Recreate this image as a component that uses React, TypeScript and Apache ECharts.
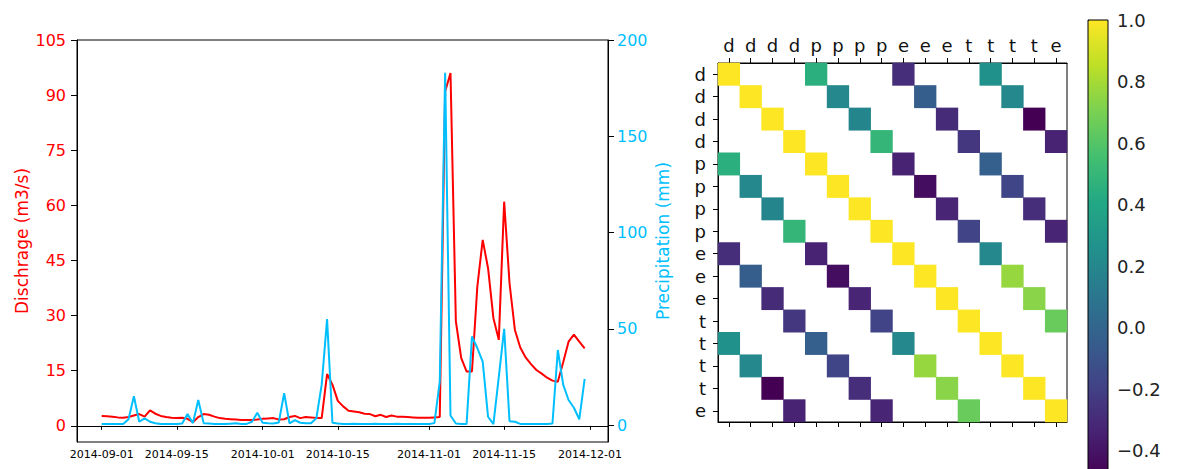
import React, { useEffect, useRef } from 'react';
import * as echarts from 'echarts';

// ---------- data ----------
const startDate = [2014, 8, 1]; // 2014-09-01 (month is 0-based)
const dayCount = 91;

const discharge = [
  2.7, 2.6, 2.5, 2.3, 2.2, 2.4, 2.8, 3.2, 2.5, 4.2,
  3.3, 2.7, 2.4, 2.2, 2.1, 2.2, 1.9, 1.0, 2.4, 3.2,
  3.0, 2.5, 2.1, 1.9, 1.8, 1.7, 1.6, 1.6, 1.6, 1.7,
  1.9, 2.0, 2.1, 1.7, 1.8, 2.4, 2.7, 2.1, 2.4, 2.3,
  2.1, 2.1, 14.1, 11.2, 6.8, 5.3, 4.1, 3.9, 3.7, 3.3,
  3.2, 2.6, 3.0, 2.4, 2.8, 2.5, 2.5, 2.4, 2.3, 2.2,
  2.2, 2.2, 2.3, 2.4, 91.0, 96.0, 28.4, 18.4, 14.8, 14.8,
  37.9, 50.6, 42.9, 29.3, 23.4, 61.0, 38.8, 26.1, 21.3, 18.6,
  16.8, 15.2, 14.2, 13.1, 12.3, 12.0, 17.3, 22.9, 24.8, 22.9,
  21.1,
];

const precipitation = [
  0.5, 0.6, 0.5, 0.5, 0.6, 3.0, 15.0, 1.7, 3.5, 1.7,
  0.9, 0.5, 0.5, 0.6, 0.5, 0.8, 5.7, 1.0, 13.0, 1.0,
  0.8, 0.6, 0.5, 0.5, 0.7, 0.9, 0.6, 0.6, 1.7, 6.4,
  1.2, 0.9, 0.8, 1.3, 16.5, 0.9, 2.6, 1.2, 0.9, 0.9,
  3.5, 21.0, 55.0, 1.2, 0.8, 0.6, 0.5, 0.7, 0.6, 0.5,
  0.6, 0.7, 0.6, 0.5, 0.6, 0.7, 0.5, 0.6, 0.5, 0.6,
  0.5, 0.6, 1.0, 22.5, 183.0, 5.0, 0.8, 0.5, 0.6, 46.0,
  40.0, 33.0, 4.3, 0.5, 25.0, 50.0, 2.0, 1.7, 0.6, 0.5,
  0.5, 0.5, 0.5, 0.5, 0.8, 39.0, 21.0, 13.0, 9.0, 3.0,
  24.0,
];

const dischargeTicks = [0, 15, 30, 45, 60, 75, 90, 105];
const precipTicks = [0, 50, 100, 150, 200];
const dateTicks = ['2014-09-01', '2014-09-15', '2014-10-01', '2014-10-15', '2014-11-01', '2014-11-15', '2014-12-01'];

const varLabels = ['d', 'd', 'd', 'd', 'p', 'p', 'p', 'p', 'e', 'e', 'e', 't', 't', 't', 't', 'e'];

const N = null;
const corrRows = [
  [1, N, N, N, 0.46, N, N, N, -0.27, N, N, N, 0.27, N, N, N],
  [N, 1, N, N, N, 0.22, N, N, N, -0.03, N, N, N, 0.22, N, N],
  [N, N, 1, N, N, N, 0.20, N, N, N, -0.28, N, N, N, -0.46, N],
  [N, N, N, 1, N, N, N, 0.50, N, N, N, -0.23, N, N, N, -0.32],
  [0.46, N, N, N, 1, N, N, N, -0.32, N, N, N, -0.02, N, N, N],
  [N, 0.22, N, N, N, 1, N, N, N, -0.41, N, N, N, -0.16, N, N],
  [N, N, 0.20, N, N, N, 1, N, N, N, -0.31, N, N, N, -0.27, N],
  [N, N, N, 0.50, N, N, N, 1, N, N, N, -0.17, N, N, N, -0.31],
  [-0.27, N, N, N, -0.32, N, N, N, 1, N, N, N, 0.22, N, N, N],
  [N, -0.03, N, N, N, -0.41, N, N, N, 1, N, N, N, 0.77, N, N],
  [N, N, -0.28, N, N, N, -0.31, N, N, N, 1, N, N, N, 0.74, N],
  [N, N, N, -0.23, N, N, N, -0.17, N, N, N, 1, N, N, N, 0.66],
  [0.27, N, N, N, -0.02, N, N, N, 0.22, N, N, N, 1, N, N, N],
  [N, 0.22, N, N, N, -0.16, N, N, N, 0.77, N, N, N, 1, N, N],
  [N, N, -0.46, N, N, N, -0.27, N, N, N, 0.74, N, N, N, 1, N],
  [N, N, N, -0.32, N, N, N, -0.31, N, N, N, 0.66, N, N, N, 1],
];

const colorbarTicks = [-0.4, -0.2, 0.0, 0.2, 0.4, 0.6, 0.8, 1.0];
const corrMin = -0.46;
const corrMax = 1.0;

const viridis = ['#440154', '#482475', '#414487', '#355f8d', '#2a788e', '#21918c', '#22a884', '#44bf70', '#7ad151', '#bddf26', '#fde725'];

// ---------- helpers ----------
const pad = (n: number) => (n < 10 ? '0' + n : '' + n);
const fmtDate = (d: Date) => `${d.getFullYear()}-${pad(d.getMonth() + 1)}-${pad(d.getDate())}`;
const parseDay = (s: string) => {
  const [y, m, d] = s.split('-').map(Number);
  return new Date(y, m - 1, d).getTime();
};
const dates: string[] = [];
for (let i = 0; i < dayCount; i++) {
  dates.push(fmtDate(new Date(startDate[0], startDate[1], startDate[2] + i)));
}
const DAY = 86400000;
const baseTime = new Date(startDate[0], startDate[1], startDate[2]).getTime();
const dateTickTimes = dateTicks.map(parseDay);

const FONT = 'DejaVu Sans';
const RED = '#ff0000';
const BLUE = '#00bfff';

export default function App() {
  const ref = useRef<HTMLDivElement>(null);

  useEffect(() => {
    if (!ref.current) return;
    const chart = echarts.init(ref.current, null, { renderer: 'svg' });

    const heatData: [number, number, number][] = [];
    corrRows.forEach((row, r) => {
      row.forEach((v, c) => {
        if (v !== null) heatData.push([c, r, v as number]);
      });
    });

    const option: any = {
      animation: false,
      backgroundColor: '#ffffff',
      textStyle: { fontFamily: FONT },
      grid: [
        { left: 77, top: 40, width: 531, height: 402, show: true, borderColor: '#000', borderWidth: 1, backgroundColor: 'transparent' },
        { left: 718, top: 63, width: 349, height: 359, show: true, borderColor: '#000', borderWidth: 1, backgroundColor: 'transparent' },
        { left: 1088, top: 20, width: 20, height: 455, show: false },
      ],
      xAxis: [
        {
          type: 'value',
          gridIndex: 0,
          min: baseTime - 4.6 * DAY,
          max: baseTime + 94.35 * DAY,
          axisLine: { show: true, lineStyle: { color: '#000' } },
          axisTick: { show: true, length: 4, customValues: dateTickTimes, lineStyle: { color: '#000' } },
          axisLabel: {
            customValues: dateTickTimes,
            color: '#000',
            fontSize: 11,
            margin: 7,
            formatter: (v: number) => fmtDate(new Date(v)),
          },
          splitLine: { show: false },
          minorTick: { show: false },
        },
        {
          type: 'category',
          gridIndex: 1,
          position: 'top',
          data: varLabels,
          axisLine: { show: true, lineStyle: { color: '#000' } },
          axisTick: { show: true, alignWithLabel: true, length: 5, lineStyle: { color: '#000' } },
          axisLabel: { interval: 0, color: '#111', fontSize: 18, margin: 9 },
          splitLine: { show: false },
        },
        {
          type: 'category',
          gridIndex: 1,
          position: 'bottom',
          data: varLabels,
          axisLine: { show: true, lineStyle: { color: '#000' } },
          axisTick: { show: true, alignWithLabel: true, length: 5, interval: 0, lineStyle: { color: '#000' } },
          axisLabel: { show: false },
          splitLine: { show: false },
        },
        { type: 'value', gridIndex: 2, show: false, min: 0, max: 1 },
      ],
      yAxis: [
        {
          type: 'value',
          gridIndex: 0,
          position: 'left',
          min: -4.4,
          max: 105,
          name: 'Dischrage (m3/s)',
          nameLocation: 'middle',
          nameGap: 47,
          nameTextStyle: { color: RED, fontSize: 17 },
          axisLine: { show: true, lineStyle: { color: '#000' } },
          axisTick: { show: true, length: 6, customValues: dischargeTicks, lineStyle: { color: '#000' } },
          axisLabel: { customValues: dischargeTicks, color: RED, fontSize: 16, margin: 11 },
          splitLine: { show: false },
        },
        {
          type: 'value',
          gridIndex: 0,
          position: 'right',
          min: -8.8,
          max: 200,
          name: 'Precipitation (mm)',
          nameLocation: 'middle',
          nameGap: 46,
          nameTextStyle: { color: BLUE, fontSize: 17 },
          axisLine: { show: true, lineStyle: { color: '#000' } },
          axisTick: { show: true, length: 6, customValues: precipTicks, lineStyle: { color: '#000' } },
          axisLabel: { customValues: precipTicks, color: BLUE, fontSize: 16, margin: 9 },
          splitLine: { show: false },
        },
        {
          type: 'category',
          gridIndex: 1,
          inverse: true,
          data: varLabels,
          axisLine: { show: true, lineStyle: { color: '#000' } },
          axisTick: { show: true, alignWithLabel: true, length: 5, lineStyle: { color: '#000' } },
          axisLabel: { interval: 0, color: '#111', fontSize: 18, margin: 12 },
          splitLine: { show: false },
        },
        {
          type: 'value',
          gridIndex: 2,
          position: 'right',
          min: corrMin,
          max: corrMax,
          axisLine: { show: false },
          axisTick: { show: true, length: 5, customValues: colorbarTicks, lineStyle: { color: '#000' } },
          axisLabel: {
            customValues: colorbarTicks,
            color: '#222',
            fontSize: 18,
            margin: 9,
            formatter: (v: number) => v.toFixed(1).replace('-', '\u2212'),
          },
          splitLine: { show: false },
        },
      ],
      visualMap: {
        type: 'continuous',
        seriesIndex: 2,
        min: corrMin,
        max: corrMax,
        calculable: false,
        hoverLink: false,
        orient: 'vertical',
        left: 1088,
        top: 20,
        itemWidth: 20,
        itemHeight: 455,
        padding: 0,
        inRange: { color: viridis },
      },
      graphic: [
        {
          type: 'rect',
          z: 100,
          shape: { x: 1088, y: 20, width: 20, height: 455 },
          style: { fill: 'none', stroke: '#000', lineWidth: 1 },
        },
      ],
      series: [
        {
          type: 'line',
          name: 'Discharge',
          xAxisIndex: 0,
          yAxisIndex: 0,
          showSymbol: false,
          symbol: 'none',
          lineStyle: { color: RED, width: 2 },
          itemStyle: { color: RED },
          data: dates.map((d, i) => [parseDay(d), discharge[i]]),
        },
        {
          type: 'line',
          name: 'Precipitation',
          xAxisIndex: 0,
          yAxisIndex: 1,
          showSymbol: false,
          symbol: 'none',
          lineStyle: { color: BLUE, width: 2 },
          itemStyle: { color: BLUE },
          data: dates.map((d, i) => [parseDay(d), precipitation[i]]),
        },
        {
          type: 'heatmap',
          xAxisIndex: 1,
          yAxisIndex: 2,
          data: heatData,
          itemStyle: { borderWidth: 0 },
          emphasis: { disabled: true },
        },
      ],
    };

    chart.setOption(option);
    return () => chart.dispose();
  }, []);

  return (
    <div
      ref={ref}
      style={{ position: 'absolute', left: 0, top: 0, width: 1177, height: 469, background: '#fff' }}
    />
  );
}
